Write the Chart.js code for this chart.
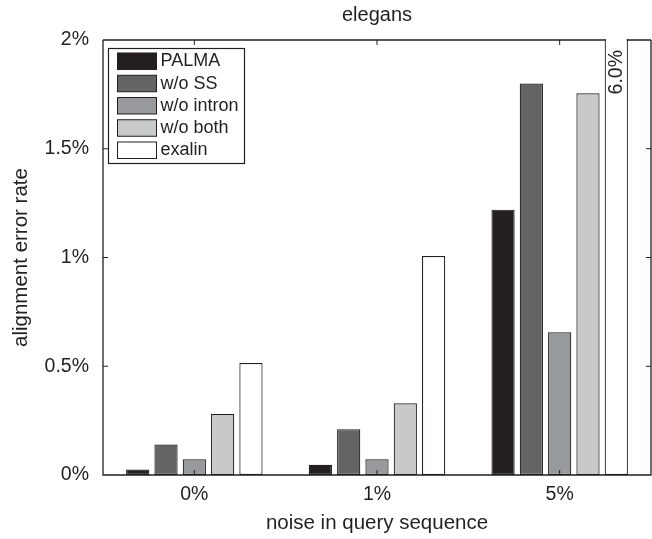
<!DOCTYPE html>
<html lang="en">
<head>
  <meta charset="UTF-8" />
  <title>elegans - alignment error rate</title>
  <script src="https://cdn.jsdelivr.net/npm/chart.js"></script>
  <style>
    body {
      margin: 0;
      background: #fff;
    }
    #wrap {
      width: 652px;
      height: 539px;
    }
  </style>
</head>
<body>
  <div id="wrap"><canvas id="errChart"></canvas></div>

  <script>
    // values in percent
    const noiseLevels = ['0%', '1%', '5%'];
    const methodNames = ['PALMA', 'w/o SS', 'w/o intron', 'w/o both', 'exalin'];
    const palma = [0.025, 0.047, 1.22];
    const woSS = [0.14, 0.21, 1.80];
    const woIntron = [0.072, 0.072, 0.656];
    const woBoth = [0.28, 0.33, 1.755];
    const exalin = [0.515, 1.007, 6.0];
    const yTicks = [0, 0.5, 1, 1.5, 2];

    const fills = ['#231f20', '#646464', '#98999d', '#c8c9cb', '#ffffff'];
    const ink = '#231f20';
    const fontFamily = "'Liberation Sans', Arial, Helvetica, sans-serif";

    const series = [palma, woSS, woIntron, woBoth, exalin];

    // MATLAB style box, inward ticks, legend inside the axes, title and clipped-bar label
    const matlabLook = {
      id: 'matlabLook',
      beforeDatasetsDraw(chart) {
        const { ctx, chartArea: ca } = chart;
        ctx.save();
        ctx.strokeStyle = ink;
        ctx.lineWidth = 1.3;
        ctx.beginPath();
        ctx.moveTo(ca.left, ca.top);
        ctx.lineTo(ca.right, ca.top);
        ctx.stroke();
        ctx.restore();
      },
      afterDatasetsDraw(chart) {
        const { ctx, chartArea: ca, scales } = chart;
        ctx.save();
        ctx.strokeStyle = ink;
        ctx.lineWidth = 1.3;
        ctx.beginPath();
        ctx.moveTo(ca.left, ca.top);
        ctx.lineTo(ca.left, ca.bottom);
        ctx.lineTo(ca.right, ca.bottom);
        ctx.lineTo(ca.right, ca.top);
        ctx.stroke();

        ctx.lineWidth = 1;
        ctx.beginPath();
        yTicks.forEach(v => {
          if (v === yTicks[0] || v === yTicks[yTicks.length - 1]) return;
          const py = scales.y.getPixelForValue(v);
          ctx.moveTo(ca.left, py);
          ctx.lineTo(ca.left + 5, py);
          ctx.moveTo(ca.right, py);
          ctx.lineTo(ca.right - 5, py);
        });
        noiseLevels.forEach((lbl, i) => {
          const px = scales.x.getPixelForValue(i);
          ctx.moveTo(px, ca.bottom);
          ctx.lineTo(px, ca.bottom - 5);
          ctx.moveTo(px, ca.top);
          ctx.lineTo(px, ca.top + 5);
        });
        ctx.stroke();
        ctx.restore();
      },
      afterDraw(chart) {
        const { ctx, chartArea: ca } = chart;
        ctx.save();

        // title
        ctx.fillStyle = ink;
        ctx.font = '20px ' + fontFamily;
        ctx.textAlign = 'center';
        ctx.textBaseline = 'middle';
        ctx.fillText('elegans', (ca.left + ca.right) / 2, 15);

        // value of the bar that runs off the top
        const lastSet = chart.data.datasets.length - 1;
        const lastIdx = noiseLevels.length - 1;
        const bar = chart.getDatasetMeta(lastSet).data[lastIdx];
        ctx.save();
        ctx.translate(bar.x, ca.top + 10);
        ctx.rotate(-Math.PI / 2);
        ctx.textAlign = 'right';
        ctx.textBaseline = 'middle';
        ctx.font = '19.5px ' + fontFamily;
        ctx.fillText(exalin[lastIdx].toFixed(1) + '%', 0, 0);
        ctx.restore();

        // legend box
        const bx = ca.left + 5.5, by = ca.top + 8.5;
        const bw = 136, bh = 115;
        ctx.fillStyle = '#fff';
        ctx.fillRect(bx, by, bw, bh);
        ctx.strokeStyle = ink;
        ctx.lineWidth = 1.2;
        ctx.strokeRect(bx, by, bw, bh);
        ctx.font = '18px ' + fontFamily;
        ctx.textAlign = 'left';
        ctx.textBaseline = 'middle';
        chart.data.datasets.forEach((ds, i) => {
          const sy = by + 4.5 + i * 22.25;
          ctx.fillStyle = ds.backgroundColor;
          ctx.fillRect(bx + 9, sy, 39, 16.5);
          ctx.lineWidth = 1;
          ctx.strokeRect(bx + 9, sy, 39, 16.5);
          ctx.fillStyle = ink;
          ctx.fillText(ds.label, bx + 52, sy + 8.5);
        });
        ctx.restore();
      }
    };

    new Chart(document.getElementById('errChart'), {
      type: 'bar',
      data: {
        labels: noiseLevels,
        datasets: series.map((vals, i) => ({
          label: methodNames[i],
          data: vals,
          backgroundColor: fills[i],
          borderColor: ink,
          borderWidth: 1.2,
          borderSkipped: false,
          categoryPercentage: 0.775,
          barPercentage: 0.82,
          clip: { left: 0, top: 1, right: 0, bottom: 0 }
        }))
      },
      options: {
        responsive: true,
        maintainAspectRatio: false,
        animation: false,
        layout: { padding: { top: 40, right: 1, left: 0, bottom: 0 } },
        plugins: {
          legend: { display: false },
          tooltip: { enabled: false }
        },
        scales: {
          x: {
            grid: { display: false, drawTicks: false },
            border: { display: false },
            ticks: { color: ink, padding: 8, font: { family: fontFamily, size: 19.5 } },
            title: {
              display: true,
              text: 'noise in query sequence',
              color: ink,
              font: { family: fontFamily, size: 20.5 },
              padding: { top: 0, bottom: 3 }
            },
            afterFit: s => { s.height = 64; }
          },
          y: {
            min: yTicks[0],
            max: yTicks[yTicks.length - 1],
            grid: { display: false, drawTicks: false },
            border: { display: false },
            ticks: {
              stepSize: 0.5,
              color: ink,
              padding: 14,
              font: { family: fontFamily, size: 19.5 },
              callback: v => v + '%'
            },
            title: {
              display: true,
              text: 'alignment error rate',
              color: ink,
              font: { family: fontFamily, size: 20.5 },
              padding: { top: 9, bottom: 0 }
            },
            afterFit: s => { s.width = 103; }
          }
        }
      },
      plugins: [matlabLook]
    });
  </script>
</body>
</html>
